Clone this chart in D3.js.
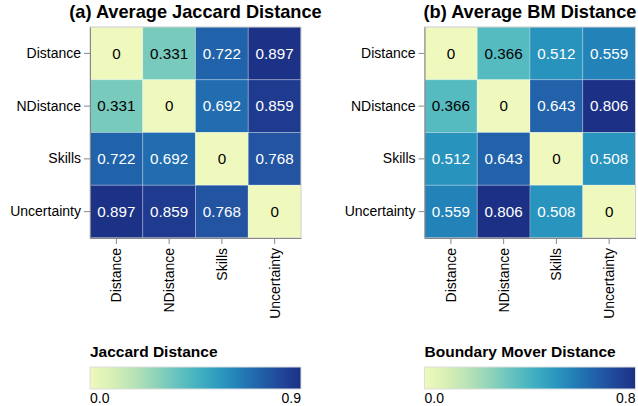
<!DOCTYPE html>
<html>
<head>
<meta charset="utf-8">
<style>
    body { margin: 0; background: #fff; }
    svg { font-family: 'Liberation Sans', Arial, sans-serif; }
    .axis .domain { stroke: #888; }
    .axis .tick line { stroke: #888; }
    .axis .tick text { font-size: 14px; fill: #000; }
</style>
</head>
<body>
<svg width="638" height="406"></svg>
<script src="https://d3js.org/d3.v7.min.js"></script>
<script>
    // categories (same on both axes)
    const categories = ["Distance", "NDistance", "Skills", "Uncertainty"];

    // (a) average Jaccard distance, row by row
    const jaccard = [
        [0, 0.331, 0.722, 0.897],
        [0.331, 0, 0.692, 0.859],
        [0.722, 0.692, 0, 0.768],
        [0.897, 0.859, 0.768, 0]
    ];

    // (b) average boundary mover distance
    const bmDist = [
        [0, 0.366, 0.512, 0.559],
        [0.366, 0, 0.643, 0.806],
        [0.512, 0.643, 0, 0.508],
        [0.559, 0.806, 0.508, 0]
    ];

    const titles = ["(a) Average Jaccard Distance", "(b) Average BM Distance"];
    const legendTitles = ["Jaccard Distance", "Boundary Mover Distance"];
    const legendMax = [0.9, 0.8];
    const legendLabels = [["0.0", "0.9"], ["0.0", "0.8"]];

    // yellow-green-blue ramp (vega-like)
    const ygb = d3.interpolateRgbBasis(["#eff9bd", "#dbf1b4", "#bde5b5", "#94d5b9", "#69c5be",
        "#45b4c2", "#2c9ec0", "#2182b9", "#2163aa", "#23479c", "#1c3185"]);

    const svg = d3.select("svg");
    svg.append("rect").attr("width", 638).attr("height", 406).attr("fill", "#fff");

    const size = 211;
    const topY = 27;

    function drawPanel(idx, left, matrix) {
        const g = svg.append("g").attr("transform", `translate(${left},${topY})`);

        const x = d3.scaleBand().domain(categories).range([0, size]);
        const y = d3.scaleBand().domain(categories).range([0, size]);
        const color = d3.scaleSequential(ygb).domain([0, legendMax[idx]]).clamp(true);

        const cells = [];
        matrix.forEach((row, i) => row.forEach((v, j) => cells.push({ r: categories[i], c: categories[j], v: v })));

        g.selectAll(".cell")
            .data(cells)
            .join("rect")
            .attr("class", "cell")
            .attr("x", d => x(d.c))
            .attr("y", d => y(d.r))
            .attr("width", x.bandwidth())
            .attr("height", y.bandwidth())
            .attr("fill", d => color(d.v))
            .attr("stroke", "rgba(255,255,255,0.25)")
            .attr("stroke-width", 1);

        g.selectAll(".val")
            .data(cells)
            .join("text")
            .attr("class", "val")
            .attr("x", d => x(d.c) + x.bandwidth() / 2)
            .attr("y", d => y(d.r) + y.bandwidth() / 2)
            .attr("dy", "0.35em")
            .attr("text-anchor", "middle")
            .attr("font-size", "15.2px")
            .attr("fill", d => d.v / legendMax[idx] > 0.5 ? "#fff" : "#000")
            .text(d => d3.format("~g")(d.v));

        // view border (top/right)
        g.append("rect")
            .attr("width", size).attr("height", size)
            .attr("fill", "none").attr("stroke", "#ccc");

        g.append("g")
            .attr("class", "axis")
            .call(d3.axisLeft(y).tickSize(6).tickPadding(3).tickSizeOuter(0));

        const xa = g.append("g")
            .attr("class", "axis")
            .attr("transform", `translate(0,${size})`)
            .call(d3.axisBottom(x).tickSize(6).tickSizeOuter(0));
        xa.selectAll(".tick text")
            .attr("transform", "rotate(-90)")
            .attr("text-anchor", "end")
            .attr("x", -10)
            .attr("y", 0)
            .attr("dy", "0.35em");

        // title
        svg.append("text")
            .attr("x", left + size / 2)
            .attr("y", 18)
            .attr("text-anchor", "middle")
            .attr("font-size", "18.2px")
            .attr("font-weight", "bold")
            .text(titles[idx]);

        // legend
        const lg = svg.append("g").attr("transform", `translate(${left},0)`);
        lg.append("text")
            .attr("x", 0).attr("y", 357)
            .attr("font-size", "15.5px")
            .attr("font-weight", "bold")
            .text(legendTitles[idx]);

        const gradId = "grad" + idx;
        const grad = svg.append("defs").append("linearGradient").attr("id", gradId);
        d3.range(0, 1.0001, 0.1).forEach(t => {
            grad.append("stop").attr("offset", t).attr("stop-color", color(t * legendMax[idx]));
        });
        lg.append("rect")
            .attr("x", 0).attr("y", 367)
            .attr("width", size).attr("height", 22)
            .attr("fill", `url(#${gradId})`)
            .attr("stroke", "#ddd");

        lg.append("text")
            .attr("x", 0).attr("y", 403)
            .attr("font-size", "14px")
            .text(legendLabels[idx][0]);
        lg.append("text")
            .attr("x", size).attr("y", 403)
            .attr("text-anchor", "end")
            .attr("font-size", "14px")
            .text(legendLabels[idx][1]);
    }

    drawPanel(0, 90, jaccard);
    drawPanel(1, 424.5, bmDist);
</script>
</body>
</html>
